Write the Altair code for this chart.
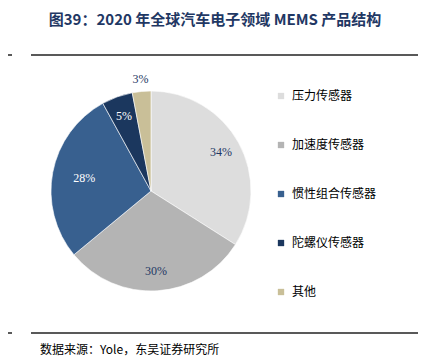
import altair as alt
import pandas as pd

categories = ["压力传感器", "加速度传感器", "惯性组合传感器", "陀螺仪传感器", "其他"]
shares = [34, 30, 28, 5, 3]
labels = ["34%", "30%", "28%", "5%", "3%"]
colors = ["#DDDDDD", "#B4B4B4", "#38608F", "#1B375E", "#C9BF98"]
label_colors = ["#1F3864", "#1F3864", "#FFFFFF", "#FFFFFF", "#1F3864"]

df = pd.DataFrame({
    "cat": categories,
    "share": shares,
    "label": labels,
    "idx": list(range(len(categories))),
    "lc": label_colors,
})

CX, CY, R = 143, 183, 100
total = float(sum(shares))
tscale = alt.Scale(domain=[0, total], range=[0, 6.283185307179586])

base = alt.Chart(df).transform_window(
    cum="sum(share)", sort=[alt.SortField("idx")], frame=[None, 0]
).transform_calculate(
    start="datum.cum - datum.share",
    mid="datum.cum - datum.share / 2",
).encode(
    x=alt.value(CX),
    y=alt.value(CY),
)

pie = base.mark_arc(radius=R, stroke="#FFFFFF", strokeWidth=0.6).encode(
    theta=alt.Theta("start:Q", scale=tscale),
    theta2="cum:Q",
    color=alt.Color(
        "cat:N",
        scale=alt.Scale(domain=categories, range=colors),
        sort=categories,
        legend=alt.Legend(
            title=None,
            orient="none",
            legendX=267,
            legendY=82,
            symbolType="square",
            symbolSize=40,
            symbolStrokeWidth=0,
            rowPadding=37,
            labelFont="Noto Sans CJK SC",
            labelFontSize=12,
            labelColor="#000000",
            labelOffset=5,
        ),
    ),
)

def label_layer(cond, r):
    return base.transform_filter(cond).mark_text(
        radius=r, font="Liberation Serif", fontSize=12
    ).encode(
        theta=alt.Theta("mid:Q", scale=tscale),
        text="label:N",
        color=alt.Color("lc:N", scale=None),
    )

inner = label_layer("datum.idx == 0 || datum.idx == 1 || datum.idx == 3", 80)
inner2 = label_layer("datum.idx == 2", 68)
outer = label_layer("datum.idx == 4", 112)

title = alt.Chart(pd.DataFrame({"t": ["图39：2020 年全球汽车电子领域 MEMS 产品结构"]})).mark_text(
    font="Noto Sans CJK SC", fontSize=15, fontWeight="bold", color="#1F3864", align="center", baseline="middle"
).encode(text="t:N", x=alt.value(207), y=alt.value(12))

source = alt.Chart(pd.DataFrame({"t": ["数据来源：Yole，东吴证券研究所"]})).mark_text(
    font="Noto Sans CJK SC", fontSize=12, color="#000000", align="left", baseline="middle"
).encode(text="t:N", x=alt.value(32), y=alt.value(342))

def hline(x1, x2, y):
    return alt.Chart(pd.DataFrame({"a": [0]})).mark_rule(color="#222222", strokeWidth=1.5).encode(
        x=alt.value(x1), x2=alt.value(x2), y=alt.value(y)
    )

lines = hline(-8, 4, 47) + hline(23, 410, 47) + hline(-8, 4, 325) + hline(23, 410, 325)

chart = alt.layer(pie, inner, inner2, outer, title, source, lines).properties(
    width=410, height=348, padding=0, autosize="none"
).configure_view(stroke=None)

chart.save("out.html", embed_options={"renderer": "svg", "actions": False})
